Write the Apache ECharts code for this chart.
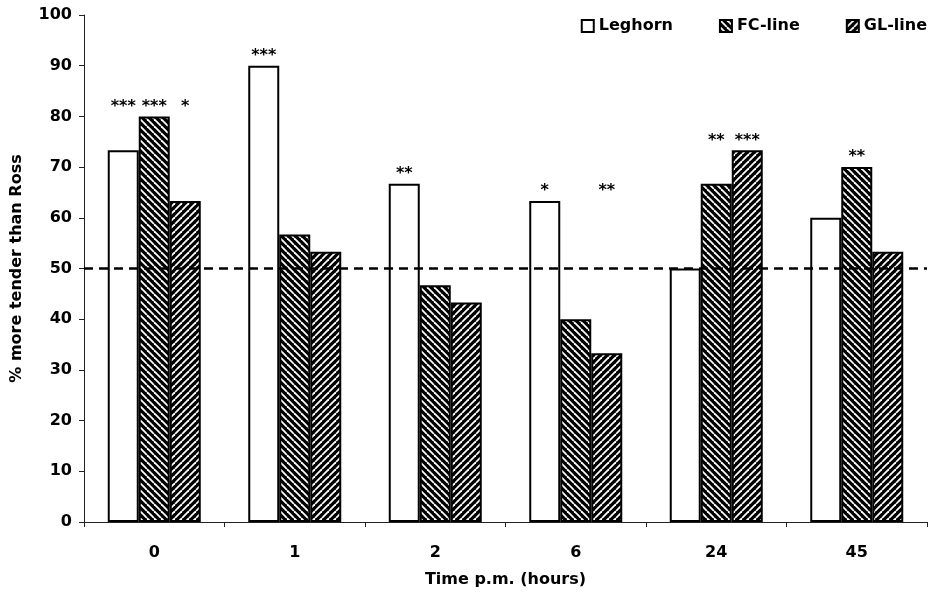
<!DOCTYPE html>
<html>
<head>
<meta charset="utf-8">
<script src="https://cdn.jsdelivr.net/npm/echarts@6/dist/echarts.min.js"></script>
<style>
  html, body { margin: 0; padding: 0; background: #fff; }
  #chart { width: 946px; height: 593px; }
</style>
</head>
<body>
<div id="chart"></div>
<script>
// Hours post mortem
const categories = ['0', '1', '2', '6', '24', '45'];

// % of samples more tender than Ross
const leghorn = [73.3, 90.0, 66.7, 63.3, 50.0, 60.0];
const fcLine  = [80.0, 56.7, 46.7, 40.0, 66.7, 70.0];
const glLine  = [63.3, 53.3, 43.3, 33.3, 73.3, 53.3];

// Significance markers per bar
const leghornSig = ['***', '***', '**', '*', '', ''];
const fcSig      = ['***', '', '', '', '**', '**'];
const glSig      = ['*', '', '', '**', '***', ''];

const yTicks = [0, 10, 20, 30, 40, 50, 60, 70, 80, 90, 100];
const referenceLevel = 50;

const FONT = '"DejaVu Sans", "Liberation Sans", Arial, sans-serif';

// Diagonal hatch: black fill with thin white stripes
function hatch(dir) {
  const s = 7;
  const c = document.createElement('canvas');
  c.width = s; c.height = s;
  const g = c.getContext('2d');
  g.fillStyle = '#000';
  g.fillRect(0, 0, s, s);
  g.strokeStyle = '#fff';
  g.lineWidth = 1.8;
  for (let k = -1; k <= 1; k++) {
    g.beginPath();
    if (dir === 'back') {
      g.moveTo(k * s, 0); g.lineTo(k * s + s, s);
    } else {
      g.moveTo(k * s + s, 0); g.lineTo(k * s, s);
    }
    g.stroke();
  }
  return { image: c, repeat: 'repeat' };
}

// Stars sit at a common height per time point
const groupTop = categories.map((_, i) => Math.max(leghorn[i], fcLine[i], glLine[i]));

function mainBar(name, values, fill, stack) {
  return {
    name: name,
    type: 'bar',
    stack: stack,
    data: values,
    barWidth: 31,
    barGap: '0%',
    itemStyle: { color: fill, borderColor: '#000', borderWidth: 2 },
    emphasis: { disabled: true }
  };
}

function starBar(values, sig, stack) {
  return {
    name: stack + '-sig',
    type: 'bar',
    stack: stack,
    data: values.map((v, i) => ({ value: groupTop[i] - v, sig: sig[i] })),
    barWidth: 31,
    barGap: '0%',
    itemStyle: { color: 'transparent', borderWidth: 0 },
    label: {
      show: true,
      position: 'top',
      distance: 2,
      fontFamily: FONT,
      fontWeight: 'bold',
      fontSize: 16,
      color: '#000',
      formatter: p => p.data.sig
    },
    emphasis: { disabled: true },
    silent: true
  };
}

const leghornSeries = mainBar('Leghorn', leghorn, '#fff', 'L');
leghornSeries.markLine = {
  silent: true,
  symbol: 'none',
  label: { show: false },
  lineStyle: { color: '#000', type: [9, 6], width: 2.5 },
  data: [{ yAxis: referenceLevel }]
};

const chart = echarts.init(document.getElementById('chart'), null, { renderer: 'canvas' });
chart.setOption({
  animation: false,
  backgroundColor: '#fff',
  textStyle: { fontFamily: FONT },
  grid: { left: 84, right: 19, top: 15, bottom: 71, containLabel: false, outerBoundsMode: 'none' },
  legend: {
    data: ['Leghorn', 'FC-line', 'GL-line'],
    right: 14,
    top: 13,
    itemWidth: 12,
    itemHeight: 12,
    itemGap: 46,
    icon: 'rect',
    selectedMode: false,
    textStyle: { fontFamily: FONT, fontWeight: 'bold', fontSize: 16, color: '#000' }
  },
  xAxis: {
    type: 'category',
    data: categories,
    name: 'Time p.m. (hours)',
    nameLocation: 'middle',
    nameGap: 50,
    nameTextStyle: { fontFamily: FONT, fontWeight: 'bold', fontSize: 16, color: '#000' },
    axisLine: { lineStyle: { color: '#222', width: 1 } },
    axisTick: { show: true, length: 5, alignWithLabel: false, lineStyle: { color: '#222' } },
    axisLabel: { fontFamily: FONT, fontWeight: 'bold', fontSize: 16, color: '#000', margin: 23 }
  },
  yAxis: {
    type: 'value',
    min: yTicks[0],
    max: yTicks[yTicks.length - 1],
    interval: yTicks[1] - yTicks[0],
    name: '% more tender than Ross',
    nameLocation: 'middle',
    nameGap: 59,
    nameRotate: 90,
    nameTextStyle: { fontFamily: FONT, fontWeight: 'bold', fontSize: 16, color: '#000' },
    axisLine: { show: true, lineStyle: { color: '#222', width: 1 } },
    axisTick: { show: true, length: 5, lineStyle: { color: '#222' } },
    splitLine: { show: false },
    axisLabel: { fontFamily: FONT, fontWeight: 'bold', fontSize: 16, color: '#000', margin: 12 }
  },
  series: [
    leghornSeries,
    starBar(leghorn, leghornSig, 'L'),
    mainBar('FC-line', fcLine, hatch('back'), 'F'),
    starBar(fcLine, fcSig, 'F'),
    mainBar('GL-line', glLine, hatch('fwd'), 'G'),
    starBar(glLine, glSig, 'G')
  ]
});
</script>
</body>
</html>
